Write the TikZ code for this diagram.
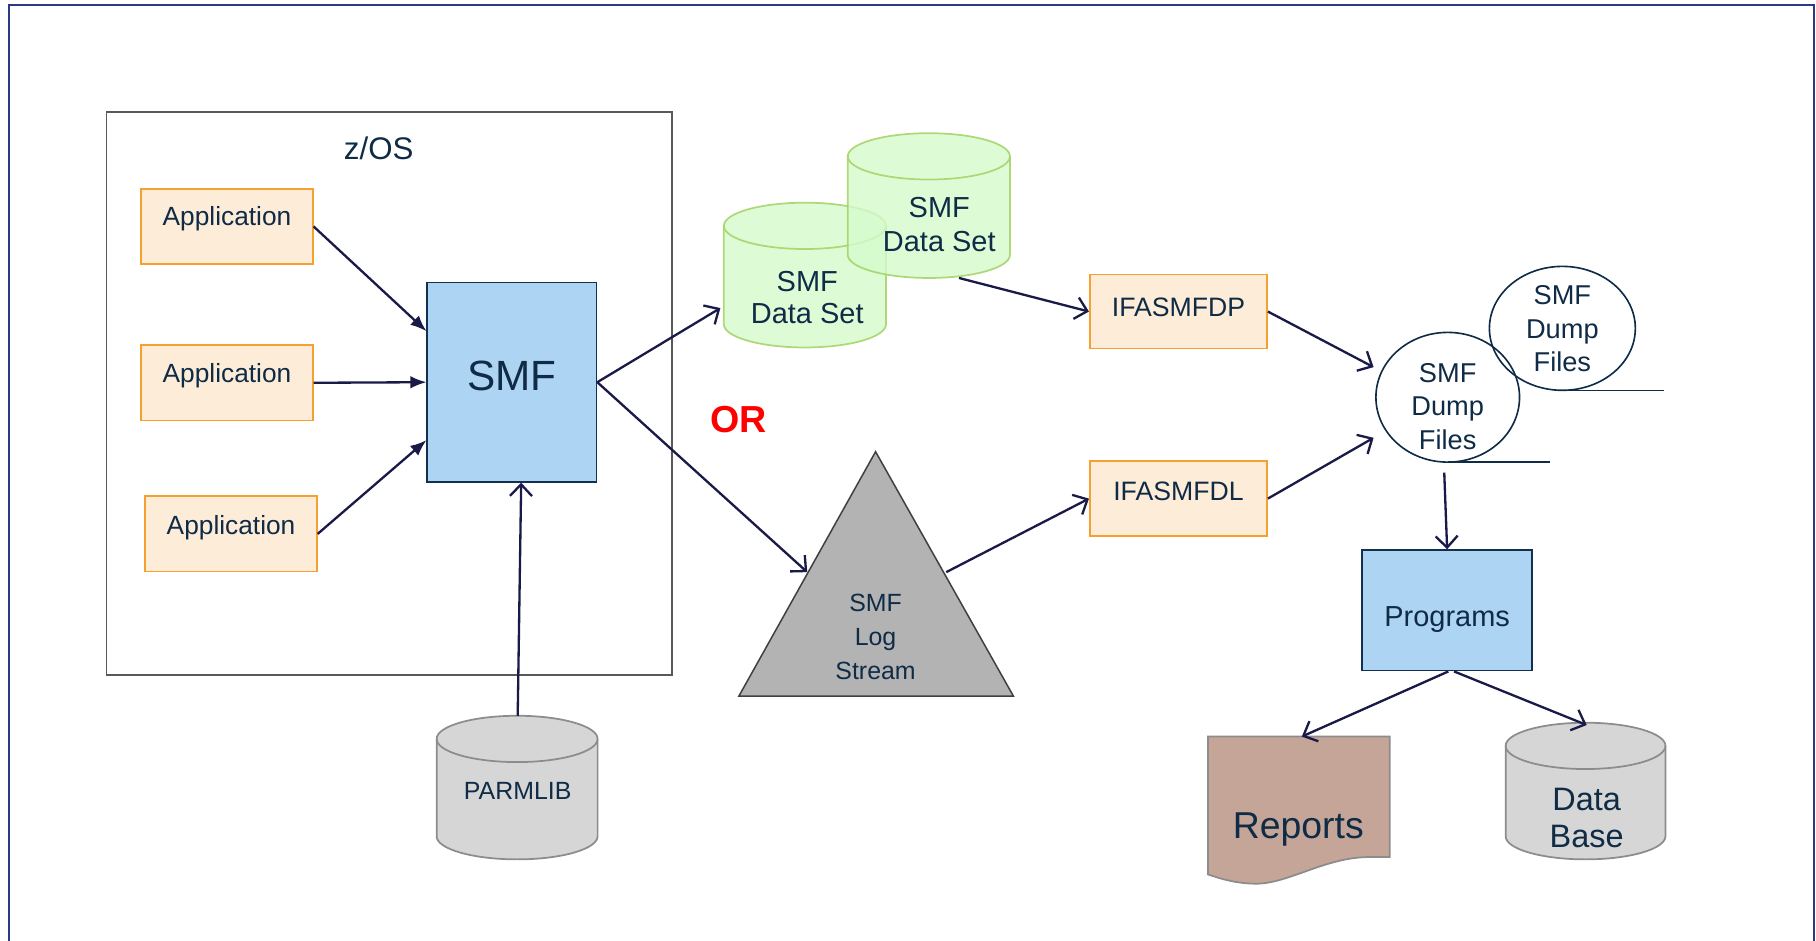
\documentclass[tikz,border=0pt]{standalone}
\usepackage{fontspec}
\setmainfont{Liberation Sans}
\usetikzlibrary{arrows.meta,calc}
\definecolor{navy}{HTML}{0F2B46}
\definecolor{arr}{HTML}{1A1A48}
\definecolor{framec}{HTML}{2B3A86}
\definecolor{orfill}{HTML}{FDECD8}
\definecolor{orline}{HTML}{F5A031}
\definecolor{bluefill}{HTML}{AED4F4}
\definecolor{blueline}{HTML}{143050}
\definecolor{grnfill}{HTML}{D4FBCC}
\definecolor{grnline}{HTML}{A8D46C}
\definecolor{grayfill}{HTML}{D6D6D6}
\definecolor{grayline}{HTML}{8C8C8C}
\definecolor{trifill}{HTML}{B3B3B3}
\definecolor{repfill}{HTML}{C4A597}
\newcommand\mycyl[6]{%
  \pgfmathsetmacro\cylrx{(#3-#2)/2}%
  \path[#6] (#2,#4+20) -- (#2,#5-20)
     arc[start angle=180,end angle=360,x radius=\cylrx pt,y radius=20pt]
     -- (#3,#4+20)
     arc[start angle=0,end angle=180,x radius=\cylrx pt,y radius=20pt] -- cycle;
  \draw[#6,fill=none] (#2,#4+20)
     arc[start angle=180,end angle=360,x radius=\cylrx pt,y radius=20pt];
  \coordinate (#1) at ({(#2+#3)/2},{(#4+#5)/2});
}
\tikzset{
  txt/.style={text=navy, font=\fontsize{22.7}{28}\selectfont, align=center, inner sep=0pt},
  appbox/.style={draw=orline, fill=orfill, line width=1.5pt, minimum width=148pt, minimum height=65pt, inner sep=0pt},
  bluebox/.style={draw=blueline, fill=bluefill, line width=1.5pt, inner sep=0pt},
  fa/.style={draw=arr, line width=2pt, -{Latex[length=14pt,width=11pt]}},
  oa/.style={draw=arr, line width=2pt, -{Straight Barb[length=10pt,width=19pt,line width=2pt]}},
  grncyl/.style={fill=grnfill, fill opacity=0.8, draw=grnline, draw opacity=0.9, line width=1.5pt},
  graycyl/.style={fill=grayfill, draw=grayline, line width=1.5pt},
  dumpe/.style={draw=navy, line width=1.4pt},
}
\begin{document}
\begin{tikzpicture}[x=1pt,y=-1pt]
\useasboundingbox (0,0) rectangle (1568,812);
% outer frame
\draw[framec, line width=2pt] (7.5,820) -- (7.5,4.5) -- (1566.5,4.5) -- (1566.5,820);
% z/OS box
\node[draw=black!65, line width=1.5pt, minimum width=488pt, minimum height=486pt, inner sep=0pt] (zos) at (336,340) {};
\node[txt, font=\fontsize{27}{30}\selectfont] (zostitle) at (327,128) {z/OS};
% applications
\node[appbox] (app1) at (196,195.5) {};
\node[txt] (app1t) at ([yshift=6.5pt]app1.center) {Application};
\node[appbox] (app2) at (196,330.5) {};
\node[txt] (app2t) at ([yshift=6.5pt]app2.center) {Application};
\node[appbox] (app3) at (199.5,461) {};
\node[txt] (app3t) at ([yshift=5pt]app3.center) {Application};
% SMF
\node[bluebox, minimum width=146pt, minimum height=172pt] (smf) at (442,330) {};
\node[txt, font=\fontsize{36.5}{40}\selectfont] (smft) at ([yshift=5pt]smf.center) {SMF};
% PARMLIB
\mycyl{parm}{377}{516}{618}{742}{graycyl}
\coordinate (parmtop) at (447,618);
\node[txt, font=\fontsize{21.5}{28}\selectfont] (parmt) at (447,683) {PARMLIB};
% green data sets
\mycyl{ds1}{625}{765}{175}{300}{grncyl}
\node[txt, font=\fontsize{25}{28}\selectfont] (ds1t) at (697,257) {SMF\\Data Set};
\mycyl{ds2}{732}{872}{115}{240}{grncyl}
\node[txt, font=\fontsize{25}{29}\selectfont] (ds2t) at (811,194) {SMF\\Data Set};
\coordinate (ds1w) at (622,266);
\coordinate (ds2s) at (828,240);
% OR
\node[text=red, font=\bfseries\fontsize{32.5}{34}\selectfont, inner sep=0pt] (or) at (638,362) {OR};
% triangle
\draw[fill=trifill, draw=black!75, line width=1.3pt] (756,390) -- (875,601) -- (638,601) -- cycle;
\node[txt, font=\fontsize{21.5}{29}\selectfont] (tri) at (756,550) {SMF\\Log\\Stream};
\coordinate (triw) at (697,494);
\coordinate (trie) at (817,494);
% IFASMF boxes
\node[appbox, minimum width=153pt, minimum height=64pt] (dp) at (1017.5,269) {};
\node[txt, font=\fontsize{23}{28}\selectfont] (dpt) at ([yshift=4pt]dp.center) {IFASMFDP};
\node[appbox, minimum width=153pt, minimum height=65pt] (dl) at (1017.5,430.5) {};
\node[txt, font=\fontsize{23}{28}\selectfont] (dlt) at ([yshift=6pt]dl.center) {IFASMFDL};
% dump files
\draw[dumpe] (1349,283.5) ellipse[x radius=63pt, y radius=53.5pt];
\draw[dumpe] (1349,337) -- (1437,337);
\node[txt, font=\fontsize{23.5}{29}\selectfont] (dump2) at (1349,284) {SMF\\Dump\\Files};
\draw[dumpe] (1250,343) ellipse[x radius=62pt, y radius=56pt];
\draw[dumpe] (1250,399) -- (1338,399);
\node[txt, font=\fontsize{23.5}{29}\selectfont] (dump1) at (1250,351) {SMF\\Dump\\Files};
\coordinate (dumpw1) at (1186,317);
\coordinate (dumpw2) at (1186,378);
\coordinate (dumps) at (1247,408);
% Programs
\node[bluebox, minimum width=147pt, minimum height=104pt] (prog) at (1249.5,527) {};
\node[txt, font=\fontsize{25}{28}\selectfont] (progt) at ([yshift=-8pt]prog.center) {Programs};
% Reports
\draw[fill=repfill, draw=grayline, line width=1.5pt] (1043,636) -- (1200,636) -- (1200,740)
   -- (1182,740) .. controls (1145,740) and (1112,763) .. (1085,763)
   .. controls (1066,763) and (1052,758) .. (1043,755) -- cycle;
\node[txt, font=\fontsize{32.3}{34}\selectfont] (rep) at (1121,716) {Reports};
\coordinate (reptop) at (1124,636);
% Data Base
\mycyl{db}{1300}{1438}{624}{742}{graycyl}
\node[txt, font=\fontsize{28}{32}\selectfont] (dbt) at (1370,706) {Data\\Base};
\coordinate (dbtop) at (1370,626);
% connectors
\draw[fa] (app1.east) -- ([yshift=44pt]smf.west);
\draw[fa] (app2.east) -- (smf.west);
\draw[fa] (app3.east) -- ([yshift=-50pt]smf.west);
\draw[oa] (parmtop) -- ([xshift=8pt]smf.south);
\draw[oa] (smf.east) -- (ds1w);
\draw[oa] (smf.east) -- (triw);
\draw[oa] (ds2s) -- (dp.west);
\draw[oa] (trie) -- (dl.west);
\draw[oa] (dp.east) -- (dumpw1);
\draw[oa] (dl.east) -- (dumpw2);
\draw[oa] (dumps) -- (prog.north);
\draw[oa] ([xshift=1pt]prog.south) -- (reptop);
\draw[oa] ([xshift=6pt]prog.south) -- (dbtop);
\end{tikzpicture}
\end{document}
